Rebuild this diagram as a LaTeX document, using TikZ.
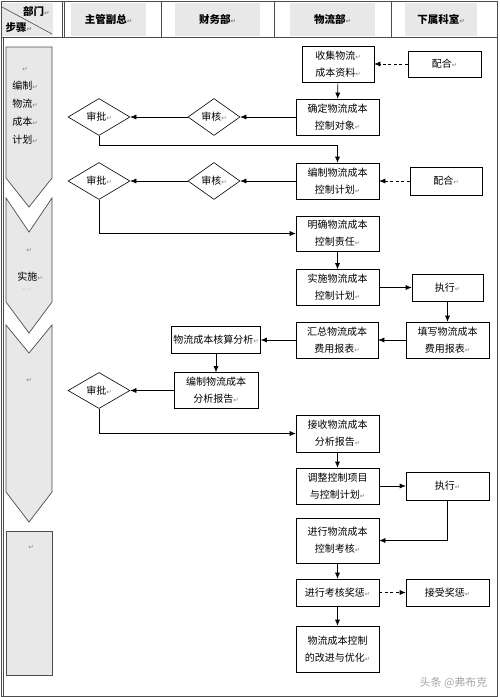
\documentclass[tikz,border=0pt]{standalone}
\usepackage{fontspec}
\setmainfont{Noto Sans CJK SC}
\newfontfamily\symfont{DejaVu Sans}
\usetikzlibrary{arrows.meta}
\usetikzlibrary{shapes.geometric}
\definecolor{panel}{gray}{0.91}
\definecolor{rim}{gray}{0.3}
\newcommand{\retmark}{{\symfont\color{gray}\fontsize{6.5}{6.5}\selectfont ↵}}
\tikzset{box/.style = {draw, line width=0.6pt, inner sep=0pt, align=center,
                       font=\fontsize{10}{17}\selectfont},
         gate/.style = {draw, diamond, line width=0.6pt, inner sep=0pt, aspect=1.6,
                        font=\fontsize{10}{12}\selectfont},
         stage/.style = {draw=rim, fill=panel, line width=0.7pt},
         flow/.style = {-{Latex[length=6pt,width=5pt]}, line width=0.6pt},
         hint/.style = {flow, dash pattern=on 3pt off 2.5pt},
         headtxt/.style = {font=\fontsize{10.5}{12}\selectfont\bfseries}}

\begin{document}
\begin{tikzpicture}[x=1pt, y=-1pt]
  \useasboundingbox (0, 0) rectangle (500, 697);

  % frame and header
  \fill [panel] (2, 3) rectangle (53, 36);
  \fill [panel] (71, 3) rectangle (146, 36);
  \fill [panel] (175, 3) rectangle (260, 36);
  \fill [panel] (290, 3) rectangle (375, 36);
  \fill [panel] (405, 3) rectangle (477, 36);
  \draw [rim, line width=0.7pt] (1, 1) rectangle (497, 696);
  \draw [rim, line width=0.7pt] (3.5, 37) -- (3.5, 696);
  \draw [rim, line width=0.7pt] (1, 37) -- (497, 37);
  \draw [rim, line width=0.7pt] (62, 1) -- (62, 37);
  \draw [rim, line width=0.7pt] (64.5, 1) -- (64.5, 37);
  \draw [rim, line width=0.7pt] (161, 1) -- (161, 37);
  \draw [rim, line width=0.7pt] (274, 1) -- (274, 37);
  \draw [rim, line width=0.7pt] (391, 1) -- (391, 37);
  \draw [rim, line width=0.6pt] (2, 7) -- (52, 34);
  \node [headtxt, anchor=east] (deptlbl) at (53, 11) {部门\retmark};
  \node [headtxt, anchor=west] (steplbl) at (2, 28) {步骤\retmark};
  \node [headtxt] (headvp) at (108.5, 19) {主管副总\retmark};
  \node [headtxt] (headfin) at (217.5, 19) {财务部\retmark};
  \node [headtxt] (headlog) at (332.5, 19) {物流部\retmark};
  \node [headtxt] (headsub) at (441, 19) {下属科室\retmark};

  % stage arrows on the left
  \draw [stage] (6, 47) -- (52, 47) -- (52, 178) -- (29, 207) -- (6, 178) -- cycle;
  \draw [stage] (6, 198) -- (29, 232) -- (52, 198) -- (52, 302) -- (29, 333) -- (6, 302) -- cycle;
  \draw [stage] (6, 325) -- (29, 353) -- (52, 325) -- (52, 492) -- (29, 522) -- (6, 492) -- cycle;
  \draw [stage] (6, 531) rectangle (52, 675);
  \node [align=center, font=\fontsize{10}{18}\selectfont, anchor=north] (stageplan) at (25, 64)
        {\retmark\\编制\retmark\\物流\retmark\\成本\retmark\\计划\retmark};
  \node (stagerun0) at (29, 250) {\retmark};
  \node [font=\fontsize{10}{12}\selectfont] (stagerun) at (30, 277) {实施\retmark};
  \node [font=\symfont\fontsize{5.5}{5.5}\selectfont, text=gray] (stagedots) at (27, 290) {·· ··};
  \node (stagecheck) at (29, 380) {\retmark};
  \node (stageend) at (31, 547) {\retmark};

  % logistics department
  \node [box, minimum width=72, minimum height=36] (collect) at (338, 64) {收集物流\retmark\\成本资料\retmark};
  \node [box, minimum width=73, minimum height=26] (coop1) at (444.5, 64) {配合\retmark};
  \node [box, minimum width=83, minimum height=36] (target) at (337.5, 117) {确定物流成本\\控制对象\retmark};
  \node [box, minimum width=83, minimum height=36] (plan) at (337.5, 181) {编制物流成本\\控制计划\retmark};
  \node [box, minimum width=72, minimum height=28] (coop2) at (446, 181) {配合\retmark};
  \node [box, minimum width=83, minimum height=35] (duty) at (337.5, 233.5) {明确物流成本\\控制责任\retmark};
  \node [box, minimum width=83, minimum height=36] (carry) at (337.5, 287.5) {实施物流成本\\控制计划\retmark};
  \node [box, minimum width=71, minimum height=27] (exec1) at (447.5, 287.5) {执行\retmark};
  \node [box, minimum width=83, minimum height=36] (fillin) at (447.5, 340) {填写物流成本\\费用报表\retmark};
  \node [box, minimum width=82, minimum height=36] (gather) at (337, 340) {汇总物流成本\\费用报表\retmark};
  \node [box, minimum width=83, minimum height=37] (receive) at (337.5, 433.5) {接收物流成本\\分析报告\retmark};
  \node [box, minimum width=83, minimum height=36] (adjust) at (337.5, 486) {调整控制项目\\与控制计划\retmark};
  \node [box, minimum width=83, minimum height=28] (exec2) at (447.5, 486) {执行\retmark};
  \node [box, minimum width=83, minimum height=45] (assess) at (337.5, 540.5) {进行物流成本\\控制考核\retmark};
  \node [box, minimum width=83, minimum height=27] (reward) at (337.5, 592.5) {进行考核奖惩\retmark};
  \node [box, minimum width=83, minimum height=27] (accept) at (447.5, 592.5) {接受奖惩\retmark};
  \node [box, minimum width=83, minimum height=46] (improve) at (337.5, 649) {物流成本控制\\的改进与优化\retmark};

  % finance department
  \node [box, minimum width=89, minimum height=27] (account) at (216, 340) {物流成本核算分析\retmark};
  \node [box, minimum width=84, minimum height=36] (report) at (216, 390.5) {编制物流成本\\分析报告\retmark};

  % reviews and approvals
  \node [gate, minimum width=52, minimum height=37] (audit1) at (214, 117) {审核\retmark};
  \node [gate, minimum width=62, minimum height=37] (approve1) at (99, 117) {审批\retmark};
  \node [gate, minimum width=52, minimum height=37] (audit2) at (214, 181) {审核\retmark};
  \node [gate, minimum width=62, minimum height=37] (approve2) at (99, 181) {审批\retmark};
  \node [gate, minimum width=62, minimum height=36] (approve3) at (99, 390.5) {审批\retmark};

  % connectors
  \draw [flow] (collect) -- (target);
  \draw [hint] (coop1) -- (collect);
  \draw [flow] (target) -- (audit1);
  \draw [flow] (audit1) -- (approve1);
  \draw [flow] (approve1.south) -- ++(0, 9) -| (plan.north);
  \draw [hint] (coop2) -- (plan);
  \draw [flow] (plan) -- (audit2);
  \draw [flow] (audit2) -- (approve2);
  \draw [flow] (approve2.south) |- (duty.west);
  \draw [flow] (duty) -- (carry);
  \draw [flow] (carry) -- (exec1);
  \draw [flow] (exec1) -- (fillin);
  \draw [flow] (fillin) -- (gather);
  \draw [flow] (gather) -- (account);
  \draw [flow] (account) -- (report);
  \draw [flow] (report) -- (approve3);
  \draw [flow] (approve3.south) |- (receive.west);
  \draw [flow] (receive) -- (adjust);
  \draw [flow] (adjust) -- (exec2);
  \draw [flow] (exec2.south) |- (assess.east);
  \draw [flow] (assess) -- (reward);
  \draw [hint] (reward) -- (accept);
  \draw [flow] (reward) -- (improve);

  \node [text=gray!70, font=\fontsize{11}{12}\selectfont, anchor=east] (stamp) at (491, 683) {头条 @弗布克};
\end{tikzpicture}
\end{document}
